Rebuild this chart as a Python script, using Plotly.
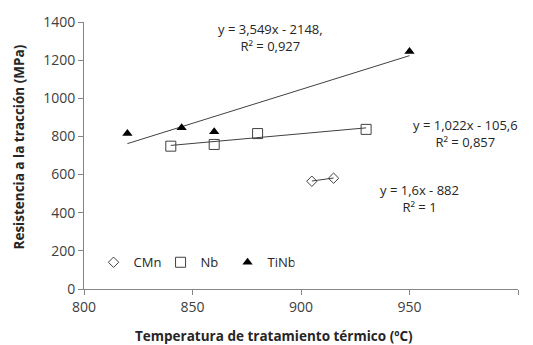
import plotly.graph_objects as go
import numpy as np

# Data
cmn_x = [905, 915]
cmn_y = [565, 581]
nb_x = [840, 860, 880, 930]
nb_y = [749, 758, 815, 837]
tinb_x = [820, 845, 860, 950]
tinb_y = [815, 846, 824, 1245]

# Trendline coefficients (slope, intercept) and labels as shown
cmn_fit = [1.6, -882]
nb_fit = [1.022, -105.6]
tinb_fit = [3.549, -2148]

cmn_label = "y = 1,6x - 882<br>R² = 1"
nb_label = "y = 1,022x - 105,6<br>R² = 0,857"
tinb_label = "y = 3,549x - 2148,<br>R² = 0,927"

x_title = "<b>Temperatura de tratamiento térmico (ºC)</b>"
y_title = "<b>Resistencia a la tracción (MPa)</b>"

x_ticks = [800, 850, 900, 950, 1000]
y_ticks = [0, 200, 400, 600, 800, 1000, 1200, 1400]

FONT = "Open Sans, Liberation Sans, sans-serif"
LINE_C = "#404040"

fig = go.Figure()

def trend(xs, fit):
    xx = np.array([min(xs), max(xs)], dtype=float)
    return xx, fit[0] * xx + fit[1]

for xs, fit in [(tinb_x, tinb_fit), (nb_x, nb_fit), (cmn_x, cmn_fit)]:
    tx, ty = trend(xs, fit)
    fig.add_trace(go.Scatter(x=tx, y=ty, mode="lines",
                             line=dict(color=LINE_C, width=1),
                             showlegend=False, hoverinfo="skip"))

fig.add_trace(go.Scatter(x=cmn_x, y=cmn_y, mode="markers", name="CMn",
                         marker=dict(symbol="diamond-open", size=8,
                                     color="#404040", line=dict(width=1))))
fig.add_trace(go.Scatter(x=nb_x, y=nb_y, mode="markers", name="Nb",
                         marker=dict(symbol="square-open", size=10,
                                     color="#404040", line=dict(width=1))))
fig.add_trace(go.Scatter(x=tinb_x, y=tinb_y, mode="markers", name="TiNb",
                         marker=dict(symbol="triangle-up", size=9,
                                     color="#000000")))

ann_font = dict(family=FONT, size=13, color="#262626")
for txt, ax_, ay_ in [(tinb_label, 886, 1320), (nb_label, 975.6, 818),
                      (cmn_label, 954.8, 472)]:
    fig.add_annotation(x=ax_, y=ay_, xref="x", yref="y", text=txt,
                       showarrow=False, align="center", font=ann_font)

title_font = dict(family=FONT, size=13.5, color="#262626")
fig.add_annotation(x=0.438, y=337, xref="paper", yref="paper", text=x_title,
                   showarrow=False, font=title_font, xanchor="center",
                   yanchor="middle", yshift=0)
fig.add_annotation(x=19, y=0.53, xref="paper", yref="paper", text=y_title,
                   showarrow=False, font=title_font, textangle=-90,
                   xanchor="center", yanchor="middle")

fig.update_layout(
    width=533, height=345,
    margin=dict(l=84, r=15, t=17, b=56),
    paper_bgcolor="white", plot_bgcolor="white",
    font=dict(family=FONT, color="#404040"),
    legend=dict(orientation="h", x=0.022, y=0.1, xanchor="left",
                yanchor="middle", font=dict(family=FONT, size=13, color="#262626"),
                itemwidth=30, entrywidth=22, bgcolor="rgba(0,0,0,0)"),
    xaxis=dict(range=[800, 1000], tickvals=x_ticks, showgrid=False,
               zeroline=False, showline=True, linecolor="#868686",
               linewidth=1, ticks="outside", ticklen=5, tickcolor="#868686",
               tickfont=dict(family=FONT, size=14, color="#404040")),
    yaxis=dict(range=[0, 1400], tickvals=y_ticks, showgrid=False,
               zeroline=False, showline=True, linecolor="#868686",
               linewidth=1, ticks="outside", ticklen=5, tickcolor="#868686",
               tickfont=dict(family=FONT, size=14, color="#404040")),
)

# convert pixel positions of axis titles into paper coordinates
pw, ph = 533 - 84 - 15, 345 - 17 - 56
anns = list(fig.layout.annotations)
anns[-2].y = (345 - 56 - 337) / ph
anns[-1].x = (19 - 84) / pw
fig.layout.annotations = anns

fig.write_html("out.html")
